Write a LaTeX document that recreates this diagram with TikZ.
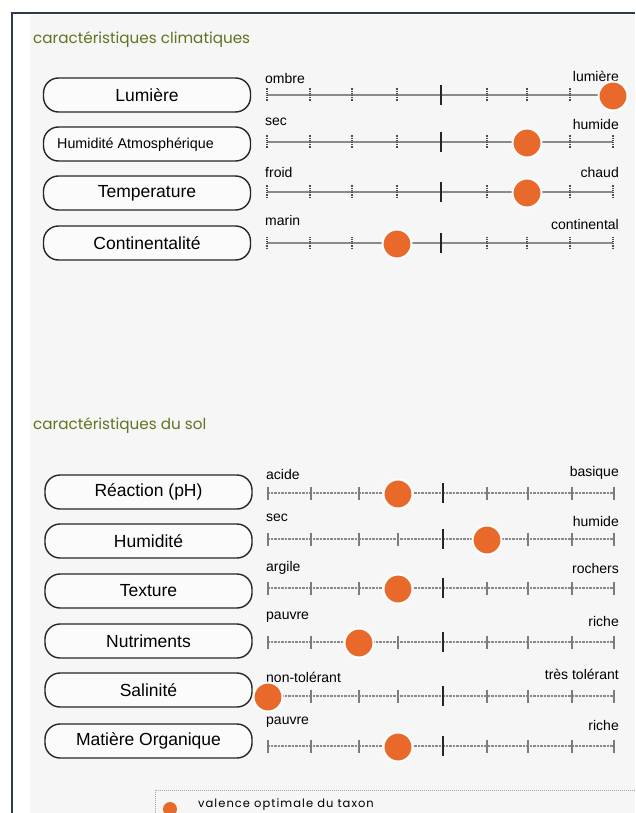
\documentclass[tikz,border=0pt]{standalone}
\usepackage{fontspec}
\setmainfont{Liberation Sans}
\newfontfamily\titlefont{Poppins}
\newfontfamily\legendfont[LetterSpace=9]{Poppins}
\definecolor{panelgray}{HTML}{F6F6F6}
\definecolor{framenavy}{HTML}{2E3A4E}
\definecolor{titlegreen}{HTML}{5F7420}
\definecolor{dotorange}{HTML}{E8692A}
\definecolor{scalegray}{HTML}{8A8A8A}
\tikzset{
  sectitle/.style={anchor=west,inner sep=0pt,text=titlegreen,font=\titlefont\fontsize{15.2}{17}\selectfont},
  labelbox/.style={draw=black!85,line width=1.4pt,fill=white!60!panelgray,rounded corners=15pt,minimum width=207pt,minimum height=34pt,inner sep=0pt,font=\fontsize{17.5}{19}\selectfont},
  endlabel/.style={inner sep=0pt,font=\fontsize{14}{16}\selectfont},
  climline/.style={scalegray,line width=1.6pt},
  climtick/.style={black!70,line width=1.3pt,dash pattern=on 1.2pt off 1pt},
  soilline/.style={scalegray,line width=1.4pt,dash pattern=on 0.8pt off 0.6pt},
  soiltick/.style={scalegray!90!black,line width=1.3pt},
  midtick/.style={black!85,line width=2pt},
  optdot/.style={circle,fill=dotorange,draw=white,line width=2pt,minimum size=29pt,inner sep=0pt},
}
\begin{document}
\begin{tikzpicture}[x=1pt,y=-1pt]
\useasboundingbox (0,0) rectangle (635,813);
\fill[white] (0,0) rectangle (635,813);
\fill[panelgray] (30,15) rectangle (635,813);
\draw[framenavy,line width=1.6pt] (12,813) -- (12,13) -- (635,13);

% titles
\node[sectitle] (t1) at (33,39.5) {caractéristiques climatiques};
\node[sectitle] (t2) at (33,425.5) {caractéristiques du sol};

% climate boxes
\node[labelbox] (b1) at (147,95) {Lumière};
\node[labelbox] (b2) at (147,144) {};
\node[anchor=west,inner sep=0pt,font=\fontsize{14.3}{16}\selectfont] (b2t) at (57,144.5) {Humidité Atmosphérique};
\node[labelbox] (b3) at (147,193) {Temperature};
\node[labelbox] (b4) at (147,243) {Continentalité};

% climate scales
\foreach \y/\l/\ly/\r/\ry/\d [count=\i] in {95/ombre/78/lumière/76/613, 142/sec/122/humide/124/527, 192/froid/172/chaud/172/527, 243/marin/220/continental/224/397}{
  \draw[climline] (267,\y) -- (613,\y);
  \foreach \x in {267,310,352,397,487,527,570,613}{
    \draw[climtick] (\x,\y-6.5) -- (\x,\y+6.5);
  }
  \draw[midtick] (441,\y-10) -- (441,\y+10);
  \node[endlabel,anchor=west] (cl\i) at (265,\ly) {\l};
  \node[endlabel,anchor=east] (cr\i) at (619,\ry) {\r};
  \node[optdot] (cd\i) at (\d,\y+1) {};
}

% soil boxes
\node[labelbox] (s1) at (148.5,492) {Réaction (pH)};
\node[labelbox] (s2) at (148.5,541) {Humidité};
\node[labelbox] (s3) at (148.5,591) {Texture};
\node[labelbox] (s4) at (148.5,641) {Nutriments};
\node[labelbox] (s5) at (148.5,690) {Salinité};
\node[labelbox] (s6) at (148.5,741) {Matière Organique};

% soil scales
\foreach \y/\l/\ly/\r/\ry/\d [count=\i] in {493/acide/474/basique/473/398, 539/sec/518/humide/521/487, 588/argile/568/rochers/568/398, 642/pauvre/617/riche/621/359, 696/non-tolérant/677/très tolérant/674/268, 746/pauvre/722/riche/725/398}{
  \draw[soilline] (268,\y) -- (614,\y);
  \foreach \x in {268,311,359,398,487,528,572,614}{
    \draw[soiltick] (\x,\y-6.5) -- (\x,\y+6.5);
  }
  \draw[midtick] (443,\y-10) -- (443,\y+10);
  \node[endlabel,anchor=west] (sl\i) at (266,\ly) {\l};
  \node[endlabel,anchor=east] (sr\i) at (619,\ry) {\r};
  \node[optdot] (sd\i) at (\d,\y+1) {};
}

% legend
\draw[gray!70,line width=0.8pt,dash pattern=on 1pt off 1pt] (155,813) -- (155,790) -- (635,790);
\node[circle,fill=dotorange,minimum size=14pt,inner sep=0pt] (ld) at (170,809) {};
\node[anchor=west,inner sep=0pt,font=\legendfont\fontsize{11.5}{13}\selectfont] (lt) at (198,805) {valence optimale du taxon};
\end{tikzpicture}
\end{document}
